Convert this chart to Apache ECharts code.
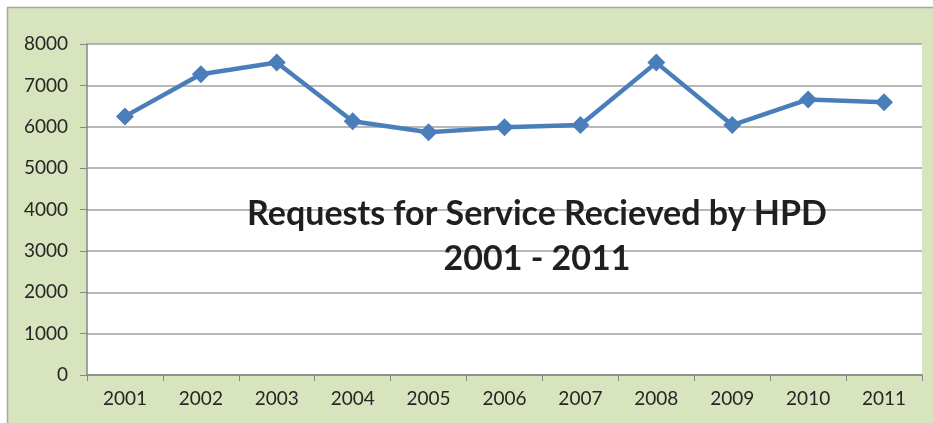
<!DOCTYPE html>
<html><head><meta charset="utf-8">
<script src="https://cdn.jsdelivr.net/npm/echarts@6/dist/echarts.min.js"></script>
<style>html,body{margin:0;padding:0;background:#fff}#c{width:933px;height:423px}</style>
</head><body><div id="c"></div>
<script>
const years = ['2001','2002','2003','2004','2005','2006','2007','2008','2009','2010','2011'];
const requests = [6250, 7270, 7555, 6135, 5865, 5985, 6045, 7550, 6040, 6660, 6590];
const yTicks = {min: 0, max: 8000, interval: 1000};
const titleLines = ['Requests for Service Recieved by HPD', '2001 - 2011'];

const chart = echarts.init(document.getElementById('c'), null, {renderer: 'canvas'});
chart.setOption({
  backgroundColor: '#ffffff',
  animation: false,
  graphic: [
    {type: 'rect', z: -10, silent: true, shape: {x: 7.5, y: 7.5, width: 940, height: 430},
     style: {fill: '#d7e4bd', stroke: '#a6a6a6', lineWidth: 1.5}},
    {type: 'text', z: 10, x: 537, y: 192, style: {
      text: titleLines.join('\n'), align: 'center', textAlign: 'center', fill: '#1f1f1f',
      fontSize: 34, fontWeight: 'bold', fontFamily: 'Lato, "Open Sans", sans-serif', lineHeight: 45}}
  ],
  grid: {left: 87, right: 11, top: 44, bottom: 48, show: true, backgroundColor: '#ffffff', borderWidth: 0},
  xAxis: {
    type: 'category', data: years, boundaryGap: true,
    axisLine: {lineStyle: {color: '#868686', width: 1.5}},
    axisTick: {show: true, inside: false, length: 6, alignWithLabel: false, lineStyle: {color: '#868686'}},
    axisLabel: {color: '#262626', fontSize: 19, fontFamily: 'Lato, "Open Sans", sans-serif', margin: 14}
  },
  yAxis: {
    type: 'value', min: yTicks.min, max: yTicks.max, interval: yTicks.interval,
    axisLine: {show: true, lineStyle: {color: '#868686', width: 1.5}},
    axisTick: {show: true, length: 7, lineStyle: {color: '#868686'}},
    axisLabel: {color: '#262626', fontSize: 19, fontFamily: 'Lato, "Open Sans", sans-serif', margin: 19,
      formatter: v => String(v)},
    splitLine: {show: true, lineStyle: {color: '#a0a0a0', width: 1.5}}
  },
  series: [{
    type: 'line', data: requests,
    symbol: 'diamond', symbolSize: 18,
    lineStyle: {color: '#4a7ebb', width: 4.5},
    itemStyle: {color: '#4a7ebb'}
  }]
});
</script></body></html>
